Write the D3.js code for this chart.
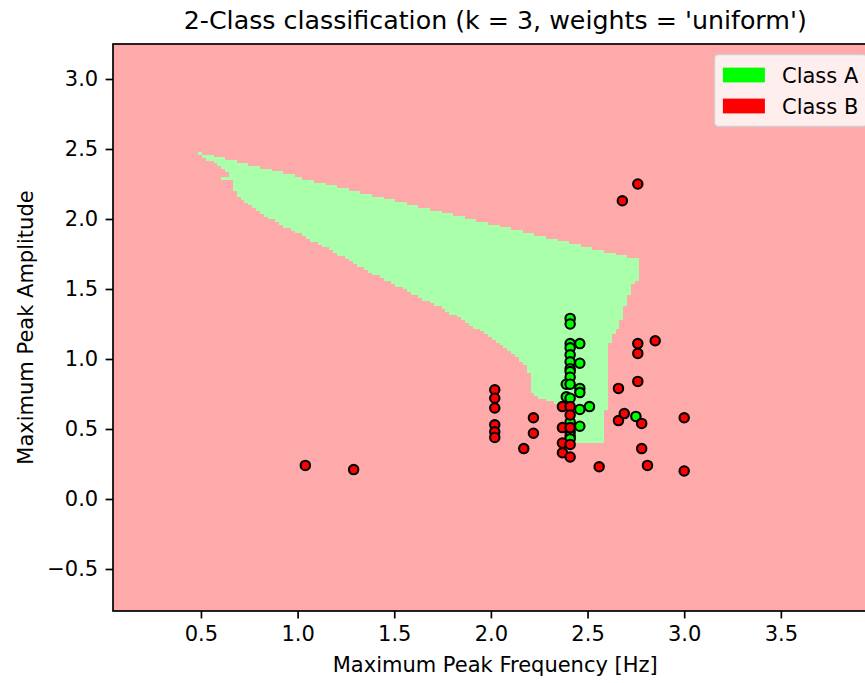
<!DOCTYPE html>
<html>
<head>
<meta charset="utf-8">
<script src="https://cdn.jsdelivr.net/npm/d3@7"></script>
<style>
  body { margin: 0; background: #fff; }
  svg { display: block; }
  text { font-family: "DejaVu Sans", sans-serif; fill: #000; }
</style>
</head>
<body>
<svg id="chart" width="865" height="683"></svg>
<script>
// Class A samples (green)
const classAFreq = [2.41, 2.41, 2.41, 2.46, 2.41, 2.41, 2.46, 2.41, 2.41, 2.41, 2.41, 2.39, 2.41,
                    2.46, 2.46, 2.39, 2.41, 2.51, 2.46, 2.46, 2.41, 2.41, 2.41, 2.41, 2.75];
const classAAmp  = [1.29, 1.25, 1.11, 1.11, 1.08, 1.03, 0.97, 0.98, 0.93, 0.91, 0.87, 0.82, 0.82,
                    0.79, 0.76, 0.73, 0.72, 0.66, 0.64, 0.52, 0.55, 0.48, 0.45, 0.43, 0.59];

// Class B samples (red)
const classBFreq = [1.04, 1.29, 2.02, 2.02, 2.02, 2.02, 2.02, 2.02, 2.17, 2.22, 2.22,
                    2.37, 2.37, 2.37, 2.37, 2.41, 2.41, 2.41, 2.41, 2.41, 2.56,
                    2.66, 2.66, 2.69, 2.76, 2.76, 2.76, 2.85, 2.78, 2.78, 2.81,
                    3.00, 3.00, 2.68, 2.76];
const classBAmp  = [0.24, 0.21, 0.78, 0.72, 0.65, 0.53, 0.48, 0.44, 0.36, 0.58, 0.47,
                    0.66, 0.51, 0.40, 0.33, 0.66, 0.60, 0.51, 0.39, 0.30, 0.23,
                    0.79, 0.56, 0.61, 1.11, 1.04, 0.84, 1.13, 0.54, 0.36, 0.24,
                    0.58, 0.20, 2.13, 2.25];

// Outline of the area predicted as Class A by the 3-NN vote
const regionFreq = [0.48, 2.764, 2.764, 2.735, 2.720, 2.699, 2.685, 2.668, 2.642, 2.616, 2.607,
                    2.607, 2.581, 2.581, 2.394, 2.394, 2.340, 2.289, 2.202, 2.202, 2.192,
                    2.166, 2.114, 2.083, 2.032, 1.944, 1.773, 1.597, 1.463, 1.359, 1.256,
                    1.131, 1.049, 0.909, 0.816, 0.702, 0.676, 0.660, 0.650, 0.609, 0.547, 0.48];
const regionAmp  = [2.477, 1.707, 1.582, 1.539, 1.477, 1.396, 1.325, 1.239, 1.189, 1.132, 1.096,
                    0.632, 0.632, 0.396, 0.396, 0.668, 0.682, 0.704, 0.761, 0.861, 0.918,
                    0.975, 1.039, 1.082, 1.132, 1.204, 1.346, 1.468, 1.561, 1.632, 1.718,
                    1.811, 1.868, 1.968, 2.039, 2.146, 2.204, 2.261, 2.311, 2.368, 2.418, 2.468];
// Small detached Class A patch near the tip
const islandFreq = [0.600, 0.655, 0.655, 0.600];
const islandAmp  = [2.275, 2.275, 2.295, 2.295];

const xTicks = [0.5, 1.0, 1.5, 2.0, 2.5, 3.0, 3.5];
const yTicks = [-0.5, 0.0, 0.5, 1.0, 1.5, 2.0, 2.5, 3.0];
const legendLabels = ["Class A", "Class B"];
const legendColors = ["#00FF00", "#FF0000"];

// Mesh extent and step of the decision surface
const xMin = 0.045, xMax = 4.0, yMin = -0.80, yMax = 3.25, step = 0.02;

const svg = d3.select("#chart");
const pLeft = 113, pTop = 44, pBottom = 611, pRight = 877.5;
const x = d3.scaleLinear().domain([xMin, xMax]).range([pLeft, pRight]);
const y = d3.scaleLinear().domain([yMin, yMax]).range([pBottom, pTop]);

svg.append("defs").append("clipPath").attr("id", "plotClip")
  .append("rect").attr("x", pLeft).attr("y", pTop)
  .attr("width", pRight - pLeft).attr("height", pBottom - pTop);

const plot = svg.append("g").attr("clip-path", "url(#plotClip)");

// Class B background
plot.append("rect")
  .attr("x", pLeft).attr("y", pTop)
  .attr("width", pRight - pLeft).attr("height", pBottom - pTop)
  .attr("fill", "#FFAAAA");

// Rasterise the Class A area on the mesh, one rect per horizontal run
const regionPoly = regionFreq.map((f, i) => [f, regionAmp[i]]);
const islandPoly = islandFreq.map((f, i) => [f, islandAmp[i]]);
const nx = Math.round((xMax - xMin) / step);
const ny = Math.round((yMax - yMin) / step);
const runs = [];
for (let j = 0; j < ny; j++) {
  const y0 = yMin + j * step;
  let start = -1;
  for (let i = 0; i <= nx; i++) {
    const x0 = xMin + i * step;
    const c = [x0 + step / 2, y0 + step / 2];
    const inside = i < nx && (d3.polygonContains(regionPoly, c) || d3.polygonContains(islandPoly, c));
    if (inside && start < 0) start = i;
    if (!inside && start >= 0) {
      runs.push({ x0: xMin + start * step, x1: xMin + i * step, y0: y0, y1: y0 + step });
      start = -1;
    }
  }
}
plot.append("g").attr("shape-rendering", "crispEdges")
  .selectAll("rect").data(runs).join("rect")
  .attr("x", d => x(d.x0))
  .attr("y", d => y(d.y1))
  .attr("width", d => x(d.x1) - x(d.x0))
  .attr("height", d => y(d.y0) - y(d.y1) + 0.3)
  .attr("fill", "#AAFFAA");

// Training samples
const pts = classAFreq.map((f, i) => ({ f, a: classAAmp[i], c: "#00FF00" }))
  .concat(classBFreq.map((f, i) => ({ f, a: classBAmp[i], c: "#FF0000" })));
plot.append("g").selectAll("circle").data(pts).join("circle")
  .attr("cx", d => x(d.f)).attr("cy", d => y(d.a))
  .attr("r", 4.7)
  .attr("fill", d => d.c)
  .attr("stroke", "#000").attr("stroke-width", 2.1);

// Axes
const fmt = d3.format(".1f");
const xAxis = svg.append("g").attr("transform", `translate(0,${pBottom})`)
  .call(d3.axisBottom(x).tickValues(xTicks).tickFormat(fmt).tickSize(7.4).tickPadding(7.4));
const yAxis = svg.append("g").attr("transform", `translate(${pLeft},0)`)
  .call(d3.axisLeft(y).tickValues(yTicks).tickFormat(fmt).tickSize(7.4).tickPadding(7.4));
[xAxis, yAxis].forEach(g => {
  g.select(".domain").remove();
  g.selectAll(".tick line").attr("stroke", "#000").attr("stroke-width", 1.7);
  g.selectAll(".tick text").attr("font-size", 21).attr("font-family", "DejaVu Sans").attr("fill", "#000");
});

// Frame
svg.append("rect")
  .attr("x", pLeft).attr("y", pTop)
  .attr("width", pRight - pLeft).attr("height", pBottom - pTop)
  .attr("fill", "none").attr("stroke", "#000").attr("stroke-width", 1.7);

// Titles
svg.append("text").attr("x", (pLeft + pRight) / 2).attr("y", 29)
  .attr("text-anchor", "middle").attr("font-size", 25.3)
  .text("2-Class classification (k = 3, weights = 'uniform')");
svg.append("text").attr("x", (pLeft + pRight) / 2).attr("y", 672)
  .attr("text-anchor", "middle").attr("font-size", 21)
  .text("Maximum Peak Frequency [Hz]");
svg.append("text").attr("transform", `translate(33,${(pTop + pBottom) / 2}) rotate(-90)`)
  .attr("text-anchor", "middle").attr("font-size", 21)
  .text("Maximum Peak Amplitude");

// Legend
const lg = svg.append("g").attr("transform", "translate(714.5,54.5)");
lg.append("rect").attr("width", 152.5).attr("height", 72).attr("rx", 4)
  .attr("fill", "#fff").attr("fill-opacity", 0.8)
  .attr("stroke", "#ccc").attr("stroke-opacity", 0.8).attr("stroke-width", 1.4);
legendLabels.forEach((lab, i) => {
  const cy = 20.5 + i * 31;
  lg.append("rect").attr("x", 8.4).attr("y", cy - 7.4).attr("width", 42).attr("height", 14.8)
    .attr("fill", legendColors[i]);
  lg.append("text").attr("x", 67.5).attr("y", cy).attr("dy", "0.36em")
    .attr("font-size", 21).text(lab);
});
</script>
</body>
</html>
